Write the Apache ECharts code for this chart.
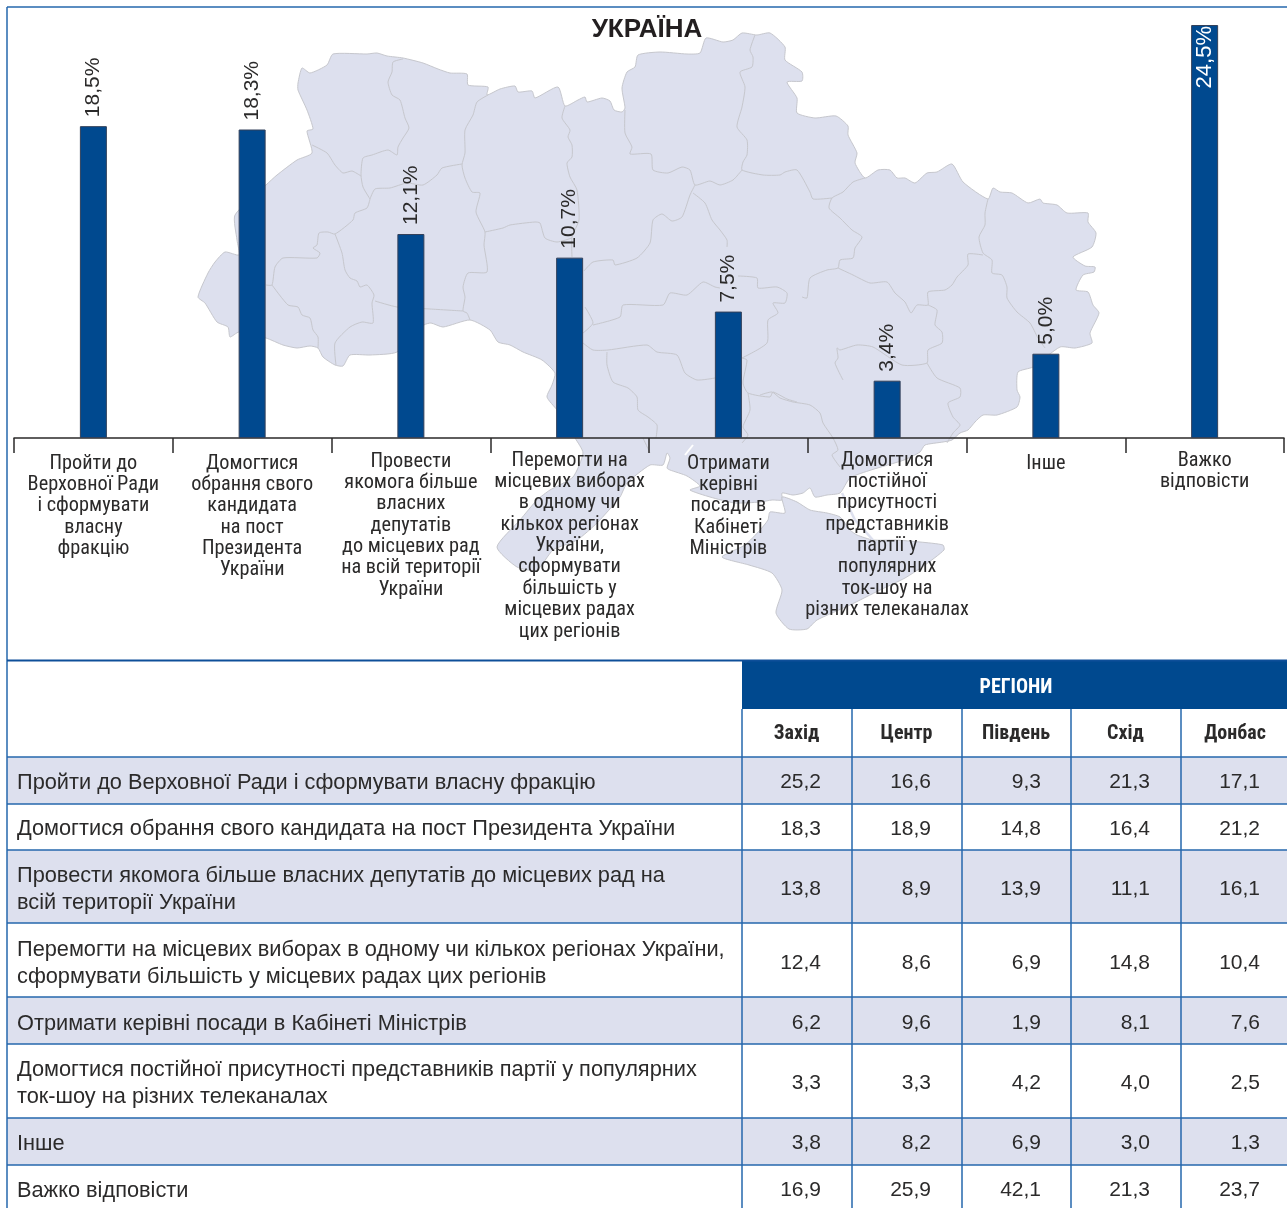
<!DOCTYPE html>
<html>
<head>
<meta charset="utf-8">
<style>html,body{margin:0;padding:0;background:#fff}#c{width:1287px;height:1208px}</style>
<script src="https://cdn.jsdelivr.net/npm/echarts@6/dist/echarts.min.js"></script>
</head>
<body>
<div id="c"></div>
<script>
// ---------- data ----------
const titleText = 'УКРАЇНА';
const categories = [
  'Пройти до\nВерховної Ради\nі сформувати\nвласну\nфракцію',
  'Домогтися\nобрання свого\nкандидата\nна пост\nПрезидента\nУкраїни',
  'Провести\nякомога більше\nвласних\nдепутатів\nдо місцевих рад\nна всій території\nУкраїни',
  'Перемогти на\nмісцевих виборах\nв одному чи\nкількох регіонах\nУкраїни,\nсформувати\nбільшість у\nмісцевих радах\nцих регіонів',
  'Отримати\nкерівні\nпосади в\nКабінеті\nМіністрів',
  'Домогтися\nпостійної\nприсутності\nпредставників\nпартії у\nпопулярних\nток-шоу на\nрізних телеканалах',
  'Інше',
  'Важко\nвідповісти'
];
const ukraineValues = [18.5, 18.3, 12.1, 10.7, 7.5, 3.4, 5.0, 24.5];
const regionNames = ['Захід', 'Центр', 'Південь', 'Схід', 'Донбас'];
const regionsHeader = 'РЕГІОНИ';
const rowLabels = [
  'Пройти до Верховної Ради і сформувати власну фракцію',
  'Домогтися обрання свого кандидата на пост Президента України',
  'Провести якомога більше власних депутатів до місцевих рад на\nвсій території України',
  'Перемогти на місцевих виборах в одному чи кількох регіонах України,\nсформувати більшість у місцевих радах цих регіонів',
  'Отримати керівні посади в Кабінеті Міністрів',
  'Домогтися постійної присутності представників партії у популярних\nток-шоу на різних телеканалах',
  'Інше',
  'Важко відповісти'
];
const west    = ['25,2','18,3','13,8','12,4','6,2','3,3','3,8','16,9'];
const centre  = ['16,6','18,9','8,9','8,6','9,6','3,3','8,2','25,9'];
const south   = ['9,3','14,8','13,9','6,9','1,9','4,2','6,9','42,1'];
const east    = ['21,3','16,4','11,1','14,8','8,1','4,0','3,0','21,3'];
const donbas  = ['17,1','21,2','16,1','10,4','7,6','2,5','1,3','23,7'];
const tableColumns = [west, centre, south, east, donbas];

// ---------- layout / style (not data) ----------
const labelPad = [3,3,1,0,3,0,3,0];
const rowNudge = [2,2,3,3.5,3,2,2,2];
const rowEdges = [757,804,850,923,997,1044,1118,1165,1212];
const colEdges = [742,852,962,1071,1181,1291];
const BLUE = '#00498f', LINE = '#2567ad', INK = '#2b2a2a', LAND = '#dde0ee', SHADE = '#dde0ee', BORDER = '#c6c7cd';
const SANS = '"Liberation Sans", Arial, sans-serif', NARROW = '"Roboto Condensed", Roboto, sans-serif';

// backdrop map: decorative outline, traced in page pixels
const mainland = [[298,83],[302,68],[310,73],[327,65],[333,54],[367,54],[377,53],[387,56],[403,58],[423,63],[438,69],[450,73],[467,74],[468,85],[488,87],[487,95],[500,89],[515,86],[518,92],[532,91],[535,98],[558,87],[565,106],[578,100],[585,97],[587,102],[602,98],[610,101],[614,110],[622,112],[625,108],[622,88],[627,72],[635,67],[638,55],[660,52],[687,54],[700,53],[706,38],[723,42],[733,40],[742,33],[757,35],[770,33],[785,47],[785,60],[802,72],[802,81],[787,82],[797,98],[797,113],[815,118],[836,116],[848,126],[848,135],[857,153],[855,163],[865,178],[878,170],[890,170],[897,178],[905,178],[915,183],[927,173],[937,172],[952,164],[963,182],[988,199],[993,188],[1000,192],[1012,193],[1028,203],[1040,199],[1043,203],[1057,205],[1067,213],[1088,213],[1088,222],[1096,233],[1092,247],[1073,257],[1085,266],[1095,267],[1094,272],[1083,275],[1076,290],[1088,292],[1093,305],[1099,313],[1090,333],[1092,343],[1075,348],[1060,347],[1033,367],[1018,372],[1017,390],[1020,397],[1017,407],[997,415],[983,415],[975,422],[968,430],[960,433],[952,440],[943,442],[925,445],[920,452],[904,460],[871,470],[850,478],[840,493],[827,495],[815,497],[810,488],[803,493],[793,495],[782,493],[782,500],[772,500],[760,502],[735,503],[710,497],[690,490],[700,486],[687,476],[670,470],[667,468],[670,458],[667,453],[663,465],[650,465],[627,483],[620,497],[597,523],[577,540],[553,550],[537,570],[517,567],[497,547],[520,520],[537,500],[550,490],[573,477],[583,453],[575,438],[557,410],[547,397],[552,385],[555,373],[542,360],[523,352],[510,345],[498,342],[490,330],[470,320],[443,327],[431,323],[424,325],[397,352],[370,355],[350,355],[343,366],[335,365],[323,357],[318,348],[310,346],[297,348],[283,345],[266,338],[239,332],[230,337],[228,327],[217,322],[205,303],[198,297],[208,273],[215,262],[225,252],[239,255],[237,240],[235,215],[266,185],[277,175],[297,160],[312,153],[307,131],[313,129],[307,110],[298,90]];
const crimea = [[785,513],[782,497],[797,502],[810,510],[827,513],[840,517],[850,530],[857,535],[873,540],[895,540],[920,542],[943,545],[944,550],[925,565],[905,578],[880,590],[850,605],[817,620],[807,629],[789,629],[776,613],[782,590],[772,573],[749,565],[722,557],[745,545],[760,530],[768,520],[770,512]];
const spit = [[842,493],[855,520],[873,540]];
const limanWhite = [[693,445],[685,455]];
const borders = [
 [[403,59],[393,62],[392,72],[388,82],[392,95],[400,100],[405,118],[409,128],[403,138],[398,147],[397,155],[388,150],[372,155],[363,158],[361,175],[363,187],[370,199]],
 [[312,145],[327,153],[335,165],[343,173],[352,171],[361,176]],
 [[370,199],[375,189],[390,188],[407,183],[423,185],[437,175],[442,168],[462,164]],
 [[488,95],[477,102],[473,115],[465,130],[465,153],[462,165],[465,178],[472,192],[480,193],[476,212],[485,232],[484,245],[487,272],[468,273],[463,287],[465,297],[463,311],[467,313],[470,320]],
 [[463,311],[430,309],[397,307],[375,301]],
 [[370,199],[367,208],[355,213],[353,220],[335,234],[328,232],[319,233],[317,245],[313,248],[320,253],[317,258],[283,258],[275,267],[272,285],[266,285]],
 [[272,285],[288,305],[298,307],[302,315],[310,318],[313,330],[318,337],[318,348]],
 [[335,234],[342,253],[345,270],[350,278],[357,281],[360,287],[367,285],[374,295],[372,303],[373,323],[362,322],[350,327],[335,343],[336,365]],
 [[565,106],[562,118],[570,130],[568,137],[572,145],[572,157],[567,163],[570,177],[577,190],[579,220],[572,237],[572,257]],
 [[485,232],[503,228],[510,225],[535,222],[540,223],[545,238],[557,242],[572,238]],
 [[584,271],[593,262],[613,260],[615,265],[637,258],[650,243],[653,220],[662,214],[672,221],[682,217],[690,195],[695,185]],
 [[625,110],[625,133],[632,147],[630,154],[651,154],[653,170],[668,173],[682,167],[690,170],[695,185],[710,181],[720,185],[733,180],[742,170]],
 [[755,35],[750,50],[753,57],[752,67],[740,72],[745,87],[742,107],[737,127],[747,140],[747,155],[743,162],[742,170],[763,175],[780,175],[785,172],[797,170],[810,192],[813,199],[832,198]],
 [[865,178],[853,182],[843,192],[832,198],[829,208],[840,218],[852,230],[862,237],[855,248],[853,258],[840,260],[838,268],[827,270],[810,278],[807,298],[802,297]],
 [[838,268],[853,275],[870,283],[887,282],[895,293],[905,302],[911,313],[917,305],[928,305],[928,292],[945,290],[952,285],[957,277],[968,265],[968,254],[983,255]],
 [[988,199],[985,213],[985,225],[979,237],[983,253],[992,260],[992,273],[1002,275],[1007,287],[1007,298],[1017,312],[1030,323],[1038,338],[1045,348]],
 [[928,305],[937,310],[935,325],[942,332],[942,343],[928,350],[927,363],[902,365],[873,347],[857,345],[840,350],[837,348],[838,358],[835,363],[843,380]],
 [[927,363],[937,378],[960,388],[960,397],[948,403],[953,417],[960,425],[953,433],[947,443]],
 [[760,395],[772,392],[780,398],[793,402],[810,405],[820,413],[823,423],[833,438],[838,450],[832,455],[840,467]],
 [[693,193],[705,203],[712,220],[720,230],[727,240],[727,247]],
 [[738,276],[757,278],[758,288],[777,287],[787,293],[785,303],[773,303],[778,313],[768,320],[767,343],[742,358]],
 [[585,307],[593,323],[583,333]],
 [[593,325],[620,317],[623,305],[663,305],[670,293],[687,295],[703,282],[715,287],[720,288]],
 [[583,343],[593,350],[608,350],[647,345],[657,352],[677,355],[685,373],[697,380],[715,378]],
 [[607,352],[607,365],[613,382],[628,388],[637,397],[638,410],[648,417],[657,425],[656,438]],
 [[643,438],[650,453]],
 [[742,358],[747,360],[743,383],[748,393],[770,397],[773,392],[787,399],[797,402]],
 [[748,393],[750,410],[743,427],[748,435],[742,443]]
];

// ---------- graphic pieces ----------
const g = [];
const landStyle = {fill: LAND, stroke: BORDER, lineWidth: 1, lineJoin: 'round'};
g.push({type:'polygon', z:-2, silent:true, shape:{points:mainland, smooth:0.2}, style:landStyle});
g.push({type:'polygon', z:-2, silent:true, shape:{points:crimea, smooth:0.2}, style:landStyle});
g.push({type:'polyline', z:-2, silent:true, shape:{points:spit}, style:{stroke:LAND, lineWidth:2.5, fill:null}});
g.push({type:'polyline', z:-2, silent:true, shape:{points:limanWhite}, style:{stroke:'#fff', lineWidth:2, fill:null}});
borders.forEach(b => g.push({type:'polyline', z:-1, silent:true, shape:{points:b, smooth:0.2}, style:{stroke:BORDER, lineWidth:1, fill:null, lineJoin:'round'}}));

const rect = (x,y,w,h,fill) => g.push({type:'rect', silent:true, shape:{x,y,width:w,height:h}, style:{fill}});
const line = (x1,y1,x2,y2,stroke,lw) => g.push({type:'line', silent:true, z:1, shape:{x1,y1,x2,y2}, style:{stroke, lineWidth:lw}});
const text = (x,y,t,font,fill,align,lh) => g.push({type:'text', silent:true, z:2, style:{x,y,text:t,font,fill,textAlign:align||'left',textVerticalAlign:'middle',lineHeight:lh||undefined}});

// table shading + header
rowLabels.forEach((_,i)=>{ if(i%2===0) rect(7,rowEdges[i],1280,rowEdges[i+1]-rowEdges[i],SHADE); });
rect(742,661,545,48,BLUE);
text(1016,688,regionsHeader,'bold 20px '+NARROW,'#fff','center');
regionNames.forEach((r,j)=>{ text((colEdges[j]+Math.min(colEdges[j+1],1290))/2-0.5,733.5,r,'bold 20px '+NARROW,INK,'center'); });
// table rows
rowLabels.forEach((lab,i)=>{
  const cy=(rowEdges[i]+rowEdges[i+1])/2+rowNudge[i];
  text(17,cy,lab,'21.75px '+SANS,INK,'left',27);
  tableColumns.forEach((col,j)=> text(colEdges[j]+79,cy,col[i],'21px '+SANS,INK,'right'));
});
// table rules
rowEdges.slice(0,-1).forEach(y=> line(7,y,1287,y,LINE,1.5));
colEdges.slice(0,-1).forEach(x=> line(x,709,x,1208,LINE,1.5));
// frame
line(7,7,1287,7,LINE,1.5);
line(7,7,7,1208,LINE,1.5);
line(7,660.5,1287,660.5,'#0e4f99',2);

// ---------- chart ----------
const option = {
  animation:false,
  backgroundColor:'#fff',
  title:{text:titleText,left:642,top:12,textAlign:'center',textStyle:{fontFamily:SANS,fontSize:26,fontWeight:'bold',color:'#231f20'}},
  grid:{left:14,right:3,top:25,bottom:770,containLabel:false},
  xAxis:{
    type:'category',
    data:categories.map((c,i)=>({value:c,textStyle:{padding:[labelPad[i],0,0,0]}})),
    axisLine:{lineStyle:{color:'#2b2a2a',width:1.5}},
    axisTick:{show:true,length:15,lineStyle:{color:'#2b2a2a',width:1.5}},
    axisLabel:{interval:0,margin:12,fontFamily:NARROW,fontSize:20.3,lineHeight:21.35,color:INK,hideOverlap:false,align:'center',verticalAlign:'top'}
  },
  yAxis:{type:'value',min:0,max:24.5,show:false,splitLine:{show:false}},
  graphic:{elements:g},
  series:[{
    type:'bar',
    data:ukraineValues.map((v,i)=>{
      const inside = v===Math.max(...ukraineValues);
      return {value:v,label: inside
        ? {position:'insideTop',rotate:90,align:'right',verticalAlign:'middle',distance:2,color:'#fff',fontSize:22,offset:[1,0]}
        : {position:'top',rotate:90,align:'left',verticalAlign:'middle',distance:8,color:INK,offset:[1,0]}};
    }),
    barWidth:27,
    itemStyle:{color:BLUE,borderColor:'#33415a',borderWidth:1},
    label:{show:true,fontFamily:SANS,fontSize:21,formatter:p=>p.value.toFixed(1).replace('.',',')+'%'}
  }]
};
echarts.init(document.getElementById('c'),null,{renderer:'canvas'}).setOption(option);
</script>
</body>
</html>
